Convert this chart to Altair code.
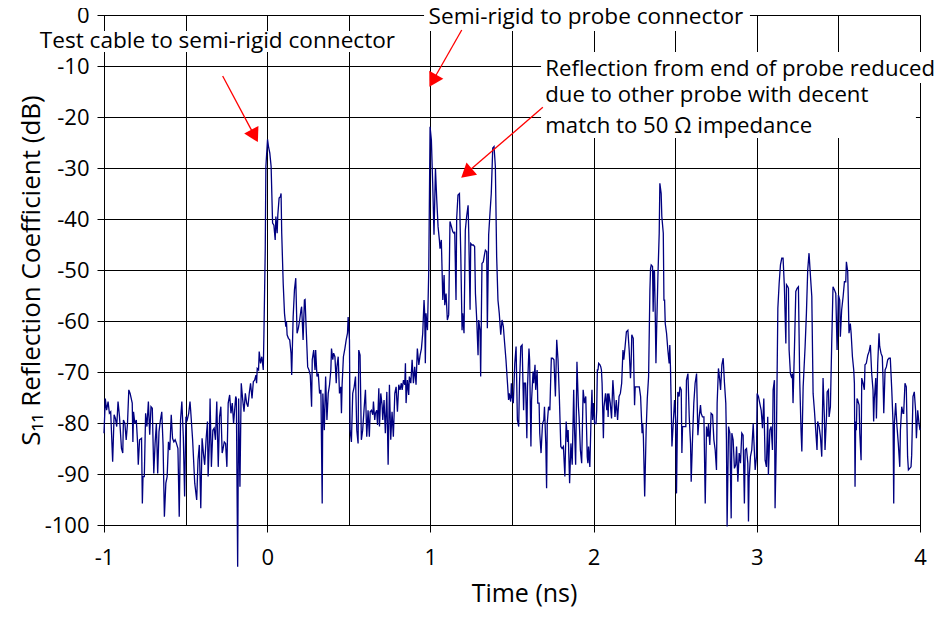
import altair as alt
import pandas as pd

t_a = [-1.000, -0.992, -0.984, -0.975, -0.967, -0.959, -0.947, -0.938, -0.930, -0.922,
       -0.914, -0.905, -0.893, -0.885, -0.881, -0.872, -0.864, -0.856, -0.848, -0.840,
       -0.827, -0.823, -0.819, -0.811, -0.802, -0.794, -0.790, -0.782, -0.770, -0.765,
       -0.761, -0.753, -0.745, -0.737, -0.728, -0.720, -0.712, -0.704, -0.695, -0.687,
       -0.679, -0.671, -0.663, -0.654, -0.646, -0.638, -0.630, -0.621, -0.613, -0.605,
       -0.597, -0.588, -0.580, -0.572, -0.564, -0.556, -0.547, -0.539, -0.531, -0.523,
       -0.514, -0.506, -0.498, -0.490, -0.481, -0.473, -0.469, -0.457, -0.444, -0.432,
       -0.424, -0.416, -0.407, -0.399, -0.391, -0.383, -0.374, -0.366, -0.362, -0.354,
       -0.350, -0.342, -0.333, -0.325, -0.317, -0.309, -0.300, -0.292, -0.284, -0.276,
       -0.272, -0.263, -0.255, -0.247, -0.239, -0.230, -0.222, -0.214, -0.206, -0.193,
       -0.189, -0.181]
v_a = [-82.0, -75.2, -77.5, -75.8, -78.1, -77.8, -87.6, -78.4, -79.1, -80.7,
       -75.8, -78.8, -85.0, -85.9, -79.4, -80.1, -83.3, -80.1, -73.5, -74.2,
       -76.1, -83.7, -77.8, -80.1, -79.4, -84.0, -88.2, -83.3, -83.0, -95.8,
       -90.5, -90.5, -78.1, -80.7, -75.8, -82.3, -76.8, -77.1, -89.9, -84.0,
       -80.1, -89.9, -81.7, -79.4, -77.8, -84.3, -98.4, -91.8, -90.5, -83.7,
       -85.3, -78.4, -83.0, -83.7, -83.3, -84.0, -85.0, -98.4, -79.4, -75.8,
       -82.7, -94.4, -78.8, -79.4, -78.1, -75.8, -77.5, -83.3, -91.8, -95.1,
       -87.3, -84.3, -96.7, -83.0, -85.9, -88.2, -83.0, -79.7, -90.5, -83.3,
       -75.2, -88.6, -81.4, -81.0, -83.3, -75.8, -88.6, -78.8, -76.8, -85.9,
       -85.3, -83.7, -84.0, -88.6, -76.1, -74.5, -78.1, -76.1, -80.1, -74.8,
       -75.2, -108.2]

t_b = [-0.175, -0.167, -0.159, -0.150, -0.142, -0.134, -0.126, -0.118, -0.110, -0.102,
       -0.093, -0.085, -0.077, -0.069, -0.065, -0.061, -0.053, -0.049, -0.041, -0.033,
       -0.024, -0.020, -0.012, -0.008, 0.002, 0.008, 0.016, 0.024, 0.033, 0.041,
       0.049, 0.053, 0.061, 0.065, 0.073, 0.081, 0.085, 0.089, 0.098, 0.106,
       0.114, 0.118, 0.122, 0.130, 0.138, 0.146, 0.150, 0.159, 0.167, 0.175,
       0.183, 0.191, 0.199, 0.207, 0.211, 0.220, 0.228, 0.232, 0.240, 0.248,
       0.256, 0.264, 0.272, 0.276, 0.285, 0.293, 0.297, 0.305, 0.313, 0.321,
       0.329, 0.337, 0.341, 0.350, 0.358, 0.366, 0.374, 0.382, 0.390, 0.394,
       0.402, 0.407, 0.415, 0.423, 0.427, 0.435, 0.443, 0.451, 0.455, 0.459,
       0.467, 0.476, 0.484, 0.492, 0.496, 0.504, 0.508, 0.516, 0.524, 0.533,
       0.541, 0.549, 0.557, 0.561, 0.569, 0.577, 0.585, 0.593, 0.602, 0.610,
       0.618, 0.626]
v_b = [-75.2, -92.5, -72.2, -75.5, -77.8, -74.2, -76.1, -76.8, -74.2, -72.2,
       -75.2, -71.9, -71.6, -70.6, -72.2, -69.3, -69.6, -66.0, -68.3, -67.0,
       -69.6, -62.4, -46.1, -29.7, -24.4, -25.8, -27.1, -29.7, -40.8, -41.2,
       -44.1, -39.5, -42.8, -39.2, -35.9, -35.6, -35.0, -42.8, -52.6, -58.5,
       -61.1, -60.1, -62.7, -63.4, -63.7, -66.3, -70.6, -59.2, -53.9, -51.6,
       -62.4, -61.4, -59.8, -57.8, -57.2, -63.7, -55.9, -55.8, -62.4, -69.0,
       -69.6, -70.6, -76.8, -67.6, -65.7, -69.6, -65.7, -70.9, -70.3, -74.2,
       -73.5, -95.8, -74.2, -81.4, -70.9, -79.4, -74.2, -72.5, -69.6, -65.4,
       -67.6, -66.3, -67.0, -72.2, -69.0, -67.0, -74.2, -72.9, -78.1, -72.5,
       -67.0, -65.4, -63.7, -62.4, -59.2, -63.7, -81.4, -83.7, -74.2, -72.9,
       -70.9, -81.4, -84.0, -65.7, -66.7, -83.3, -81.4, -77.5, -73.5, -82.7,
       -77.5, -82.7]

t_c = [0.631, 0.639, 0.647, 0.651, 0.659, 0.663, 0.671, 0.676, 0.684, 0.688,
       0.696, 0.704, 0.708, 0.716, 0.724, 0.733, 0.741, 0.749, 0.757, 0.765,
       0.773, 0.782, 0.790, 0.798, 0.806, 0.814, 0.822, 0.827, 0.835, 0.843,
       0.847, 0.851, 0.859, 0.867, 0.871, 0.880, 0.884, 0.888, 0.896, 0.904,
       0.912, 0.920, 0.929, 0.937, 0.945, 0.953, 0.961, 0.965, 0.969, 0.973,
       0.982, 0.990, 0.998, 1.006, 1.014, 1.022, 1.031, 1.039, 1.047, 1.055,
       1.059, 1.067, 1.076, 1.084, 1.088, 1.096, 1.104, 1.112, 1.120, 1.129,
       1.137, 1.145, 1.149, 1.157, 1.161, 1.169, 1.178, 1.186, 1.194, 1.198,
       1.206, 1.214, 1.222, 1.231, 1.235, 1.243, 1.247, 1.255, 1.263, 1.271,
       1.276, 1.284, 1.292, 1.296, 1.304, 1.308, 1.316, 1.324, 1.333, 1.337,
       1.345, 1.349, 1.357, 1.365, 1.373, 1.382, 1.390, 1.398, 1.406, 1.414,
       1.422, 1.431, 1.439, 1.447, 1.455, 1.463]
v_c = [-77.8, -77.5, -78.4, -75.8, -79.4, -78.1, -77.5, -80.4, -73.2, -80.7,
       -74.2, -76.5, -79.4, -75.5, -82.0, -73.9, -88.2, -72.5, -83.3, -77.8,
       -82.7, -74.2, -72.9, -77.8, -72.5, -73.5, -72.2, -73.5, -71.6, -72.5,
       -68.3, -76.1, -71.6, -74.5, -70.9, -72.2, -69.9, -67.6, -72.2, -69.0,
       -72.5, -65.4, -68.6, -66.7, -65.4, -62.4, -55.9, -58.5, -68.3, -58.5,
       -61.8, -50.0, -21.9, -24.5, -33.0, -43.1, -30.1, -36.3, -41.5, -44.1,
       -45.8, -44.1, -55.9, -51.0, -56.9, -54.6, -59.8, -58.8, -40.5, -41.5,
       -42.5, -42.8, -42.5, -55.9, -39.9, -35.3, -35.0, -46.7, -61.8, -58.5,
       -62.4, -42.2, -39.5, -37.3, -42.8, -57.8, -44.8, -45.1, -45.1, -45.4,
       -54.6, -59.8, -66.7, -59.8, -61.8, -70.9, -48.7, -48.4, -46.7, -46.1,
       -46.4, -61.4, -43.1, -38.9, -35.0, -26.1, -25.8, -29.7, -47.4, -55.9,
       -58.5, -62.7, -59.8, -61.1, -64.4, -67.6]

t_d = [1.479, 1.483, 1.492, 1.496, 1.500, 1.508, 1.517, 1.525, 1.529, 1.533,
       1.541, 1.546, 1.554, 1.562, 1.571, 1.575, 1.583, 1.591, 1.595, 1.604,
       1.608, 1.616, 1.620, 1.629, 1.633, 1.641, 1.645, 1.654, 1.658, 1.666,
       1.670, 1.678, 1.687, 1.695, 1.699, 1.707, 1.712, 1.716, 1.720, 1.724,
       1.732, 1.737, 1.741, 1.749, 1.757, 1.766, 1.774, 1.782, 1.790, 1.799,
       1.807, 1.815, 1.824, 1.832, 1.840, 1.844, 1.853, 1.861, 1.869, 1.878,
       1.882, 1.890, 1.898, 1.907, 1.911, 1.919, 1.927, 1.936, 1.944, 1.952,
       1.961, 1.965, 1.969, 1.977, 1.985, 1.990, 1.994, 1.998, 2.006, 2.015,
       2.019, 2.023, 2.027, 2.031, 2.039, 2.044, 2.048, 2.052, 2.060, 2.064,
       2.073, 2.081, 2.085, 2.089, 2.093, 2.102, 2.110, 2.118, 2.122, 2.131,
       2.139, 2.147, 2.156, 2.164, 2.172, 2.180, 2.185, 2.193, 2.201, 2.210,
       2.218, 2.226, 2.230, 2.234, 2.243, 2.251, 2.255, 2.263, 2.272, 2.280,
       2.288, 2.297, 2.301, 2.305, 2.313, 2.322]
v_d = [-75.5, -74.2, -75.8, -72.2, -74.8, -76.1, -68.3, -65.0, -72.2, -79.4,
       -80.7, -72.2, -65.0, -64.7, -77.5, -72.2, -72.2, -83.0, -72.9, -65.4,
       -67.6, -84.6, -75.5, -69.9, -72.2, -68.6, -73.5, -69.6, -76.1, -76.1,
       -82.0, -85.9, -80.1, -79.4, -76.8, -84.0, -92.8, -80.1, -78.4, -76.8,
       -77.5, -71.6, -67.3, -67.3, -67.6, -74.8, -63.7, -67.6, -74.8, -84.6,
       -85.0, -84.6, -90.5, -79.7, -83.7, -81.4, -91.8, -84.0, -88.2, -73.5,
       -80.1, -88.2, -68.0, -76.8, -78.8, -85.3, -87.9, -73.5, -76.1, -74.8,
       -86.6, -87.9, -84.6, -88.6, -78.1, -73.5, -79.4, -76.1, -80.1, -80.1,
       -77.5, -69.6, -69.6, -68.3, -68.6, -69.0, -69.6, -72.2, -83.0, -76.8,
       -74.2, -77.5, -74.2, -78.8, -74.2, -76.1, -79.1, -71.6, -73.5, -78.8,
       -75.5, -79.4, -74.8, -74.2, -72.2, -65.7, -67.6, -65.0, -62.1, -61.8,
       -65.7, -71.2, -68.3, -62.7, -63.4, -76.5, -72.9, -72.9, -72.9, -72.9,
       -74.8, -82.0, -80.1, -82.7, -94.4, -81.4]

t_e = [2.329, 2.337, 2.345, 2.349, 2.353, 2.361, 2.365, 2.369, 2.373, 2.378,
       2.382, 2.386, 2.394, 2.402, 2.406, 2.414, 2.418, 2.427, 2.431, 2.435,
       2.439, 2.447, 2.455, 2.463, 2.467, 2.471, 2.480, 2.488, 2.496, 2.504,
       2.508, 2.516, 2.524, 2.529, 2.537, 2.541, 2.545, 2.553, 2.565, 2.569,
       2.578, 2.586, 2.594, 2.598, 2.606, 2.614, 2.622, 2.631, 2.639, 2.647,
       2.655, 2.659, 2.667, 2.676, 2.684, 2.692, 2.700, 2.704, 2.712, 2.720,
       2.729, 2.737, 2.745, 2.753, 2.757, 2.765, 2.773, 2.778, 2.786, 2.794,
       2.802, 2.810, 2.814, 2.818, 2.827, 2.835, 2.843, 2.847, 2.855, 2.863,
       2.871, 2.876, 2.884, 2.892, 2.900, 2.908, 2.916, 2.924, 2.929, 2.937,
       2.945, 2.949, 2.953, 2.961, 2.969, 2.978, 2.982, 2.990, 2.998, 3.002,
       3.010, 3.018, 3.027, 3.035, 3.043, 3.051, 3.059, 3.067, 3.071, 3.080,
       3.088, 3.096, 3.100, 3.108, 3.112, 3.120, 3.129, 3.137, 3.145]
v_e = [-75.2, -70.9, -53.9, -49.7, -49.0, -49.3, -58.2, -50.0, -50.3, -59.2,
       -68.3, -62.1, -51.3, -42.8, -33.0, -35.0, -39.5, -42.8, -55.9, -55.9,
       -60.5, -62.4, -65.7, -68.3, -64.7, -69.0, -84.6, -80.1, -75.5, -80.1,
       -93.8, -73.9, -74.8, -72.9, -73.5, -85.9, -80.7, -80.7, -80.7, -71.6,
       -70.3, -78.8, -84.0, -91.5, -83.3, -76.1, -72.2, -70.3, -82.4, -78.8,
       -76.5, -78.1, -78.8, -78.8, -95.8, -80.7, -82.7, -80.1, -84.3, -78.1,
       -78.4, -83.3, -85.3, -89.2, -76.1, -69.3, -71.6, -73.5, -68.6, -67.3,
       -72.2, -76.1, -83.3, -100.3, -80.7, -82.0, -98.7, -82.0, -83.3, -88.9,
       -88.2, -84.6, -91.5, -85.9, -87.9, -82.0, -82.4, -95.8, -85.3, -85.0,
       -87.9, -99.3, -90.8, -86.6, -85.3, -80.1, -83.3, -89.2, -86.6, -74.2,
       -74.8, -76.1, -77.5, -81.0, -75.2, -87.3, -88.6, -78.8, -90.2, -81.4,
       -80.7, -85.3, -73.5, -71.6, -96.7, -83.3, -57.5, -52.6, -49.0]

t_f = [3.153, 3.161, 3.169, 3.178, 3.182, 3.190, 3.194, 3.198, 3.206, 3.214,
       3.218, 3.222, 3.231, 3.239, 3.247, 3.255, 3.263, 3.271, 3.276, 3.284,
       3.288, 3.296, 3.304, 3.312, 3.320, 3.329, 3.337, 3.345, 3.353, 3.361,
       3.369, 3.373, 3.382, 3.390, 3.398, 3.406, 3.414, 3.418, 3.427, 3.431,
       3.439, 3.443, 3.451, 3.459, 3.467, 3.476, 3.484, 3.492, 3.500, 3.508,
       3.512, 3.520, 3.529, 3.537, 3.545, 3.549, 3.557, 3.565, 3.573, 3.578,
       3.586, 3.594, 3.598, 3.602, 3.606, 3.610, 3.614, 3.618, 3.627, 3.631,
       3.639, 3.643, 3.651, 3.659, 3.663, 3.671, 3.680, 3.688, 3.696, 3.704,
       3.712, 3.716, 3.720, 3.729, 3.733, 3.741, 3.749, 3.753, 3.761, 3.769,
       3.773, 3.778, 3.786, 3.794, 3.802, 3.810, 3.818, 3.827, 3.835, 3.839,
       3.843, 3.851, 3.859, 3.867, 3.876, 3.880, 3.888, 3.896, 3.900, 3.908,
       3.916, 3.924, 3.929, 3.937, 3.945, 3.949, 3.957, 3.965, 3.973, 3.978,
       3.986, 3.994, 4.000]
v_f = [-47.7, -47.7, -53.3, -64.4, -52.9, -53.3, -53.6, -65.7, -70.3, -71.2,
       -70.3, -76.1, -65.0, -54.2, -53.6, -53.3, -71.6, -81.4, -85.6, -72.9,
       -70.3, -65.0, -58.5, -50.0, -46.7, -51.3, -55.2, -74.2, -77.5, -81.4,
       -85.3, -79.7, -80.7, -82.7, -86.6, -71.2, -78.8, -85.3, -78.8, -73.9,
       -73.5, -78.8, -76.8, -64.4, -53.3, -53.9, -54.6, -65.7, -54.9, -55.9,
       -63.1, -57.8, -55.2, -52.3, -52.3, -48.4, -50.3, -62.4, -60.5, -62.4,
       -67.0, -69.6, -72.2, -92.5, -79.7, -81.4, -75.2, -75.5, -76.5, -82.0,
       -87.3, -71.2, -72.2, -73.5, -68.6, -68.3, -66.7, -66.0, -64.7, -70.3,
       -73.5, -79.7, -75.5, -71.2, -79.1, -68.3, -62.4, -65.0, -66.3, -67.0,
       -70.9, -78.1, -69.6, -69.0, -67.6, -67.3, -67.3, -73.5, -80.1, -95.8,
       -80.1, -76.1, -80.7, -84.0, -88.6, -81.4, -76.8, -78.1, -78.1, -72.2,
       -72.9, -86.6, -89.2, -88.9, -88.6, -86.3, -74.8, -73.9, -77.5, -83.0,
       -77.5, -80.1, -81.4]

x_tick_values = [-1, -0.5, 0, 0.5, 1, 1.5, 2, 2.5, 3, 3.5, 4]
y_tick_values = [-100, -90, -80, -70, -60, -50, -40, -30, -20, -10, 0]

# ---- annotations ----
center_texts = ["Test cable to semi-rigid connector", "Semi-rigid to probe connector"]
center_t = [-0.305, 1.953]
center_v = [-6.53, -1.76]

left_texts = ["Reflection from end of probe reduced", "due to other probe with decent",
              "match to 50 \u03a9 impedance"]
left_t = [1.704, 1.704, 1.704]
left_v = [-11.96, -17.0, -23.2]

box_t1 = [-1.423, 0.961, 1.678, 1.678]
box_t2 = [0.814, 2.958, 4.159, 3.975]
box_v1 = [-3.14, 2.55, -7.25, -13.33]
box_v2 = [-7.25, -3.14, -13.33, -24.1]

arrow_t0 = [-0.273, 1.192, 1.689]
arrow_v0 = [-11.96, -2.94, -18.1]
arrow_t1 = [-0.084, 1.022, 1.232]
arrow_v1 = [-23.3, -12.5, -30.7]
arrow_angle = [152, 209.4, 229.2]

# ---- build tables ----
trace = pd.DataFrame({
    "t": t_a + t_b + t_c + t_d + t_e + t_f,
    "db": v_a + v_b + v_c + v_d + v_e + v_f,
})
ctext = pd.DataFrame({"label": center_texts, "t": center_t, "db": center_v})
ltext = pd.DataFrame({"label": left_texts, "t": left_t, "db": left_v})
boxes = pd.DataFrame({"t1": box_t1, "t2": box_t2, "v1": box_v1, "v2": box_v2})
arrows = pd.DataFrame({"t0": arrow_t0, "v0": arrow_v0, "t1": arrow_t1, "v1": arrow_v1,
                       "ang": arrow_angle})

FONT = "Open Sans"

x_scale = alt.Scale(domain=[-1, 4], nice=False, zero=False)
y_scale = alt.Scale(domain=[-100, 0], nice=False, zero=False)

x_axis = alt.Axis(
    values=x_tick_values,
    grid=True,
    labelExpr="datum.value % 1 == 0 ? datum.value + '' : ''",
    tickOpacity={"condition": {"test": "datum.value % 1 == 0", "value": 1}, "value": 0},
    tickSize=7,
    labelPadding=15,
    labelFlush=False,
    labelOverlap=False,
    title="Time (ns)",
    titleFontSize=25,
    titleX=420,
    titleY=76,
    titleBaseline="alphabetic",
    titleAlign="center",
)
y_axis = alt.Axis(
    values=y_tick_values,
    grid=True,
    labelExpr="datum.value + ''",
    tickSize=7,
    labelPadding=8,
    labelFlush=False,
    labelOverlap=False,
    title="S\u2081\u2081 Reflection Coefficient (dB)",
    titleFontSize=26,
    titleAngle=270,
    titleX=-65,
    titleY=255,
    titleBaseline="alphabetic",
    titleAlign="center",
)

box_layer = alt.Chart(boxes).mark_rect(color="white", clip=False).encode(
    x=alt.X("t1:Q", scale=x_scale, axis=x_axis),
    x2="t2:Q",
    y=alt.Y("v1:Q", scale=y_scale, axis=y_axis),
    y2="v2:Q",
)

line_layer = alt.Chart(trace).mark_line(color="#000080", strokeWidth=1.3, clip=False).encode(
    x="t:Q",
    y="db:Q",
)

ctext_layer = alt.Chart(ctext).mark_text(
    font=FONT, fontSize=22.6, align="center", baseline="alphabetic", color="black", clip=False
).encode(x="t:Q", y="db:Q", text="label:N")

ltext_layer = alt.Chart(ltext).mark_text(
    font=FONT, fontSize=22.2, align="left", baseline="alphabetic", color="black", clip=False
).encode(x="t:Q", y="db:Q", text="label:N")

arrow_line = alt.Chart(arrows).mark_rule(color="red", strokeWidth=1.3, clip=False).encode(
    x="t0:Q", y="v0:Q", x2="t1:Q", y2="v1:Q"
)
arrow_head = alt.Chart(arrows).mark_point(
    shape="triangle", filled=True, color="red", size=260, opacity=1, clip=False
).encode(
    x="t1:Q", y="v1:Q", angle=alt.Angle("ang:Q", scale=None)
)

chart = alt.layer(
    box_layer, line_layer, ctext_layer, ltext_layer, arrow_line, arrow_head
).properties(
    width=816,
    height=510,
    autosize=alt.AutoSizeParams(type="none"),
    padding={"left": 96, "top": 7, "right": 19, "bottom": 82},
).configure_view(
    stroke="black", strokeWidth=1
).configure_axis(
    labelFont=FONT,
    labelFontSize=22,
    labelColor="black",
    titleFont=FONT,
    titleFontSize=24,
    titleFontWeight="normal",
    titleColor="black",
    gridColor="black",
    gridOpacity=1,
    gridWidth=1,
    tickColor="black",
    tickWidth=1,
    domainColor="black",
    domainWidth=1,
)

chart.save("out.html", embed_options={"renderer": "svg", "actions": False})
